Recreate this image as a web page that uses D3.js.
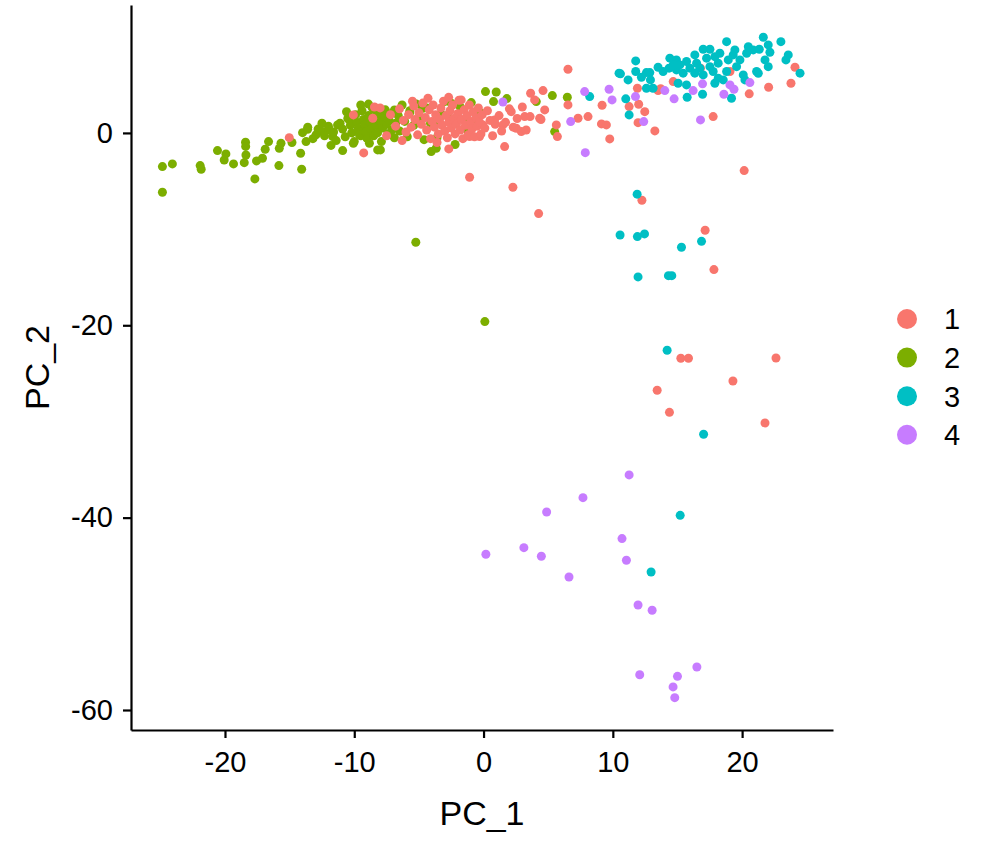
<!DOCTYPE html>
<html>
<head>
<meta charset="utf-8">
<script src="https://cdn.jsdelivr.net/npm/d3@7"></script>
<style>
  body { margin: 0; background: #fff; }
  text { font-family: "Liberation Sans", Arial, sans-serif; fill: #000; }
</style>
</head>
<body>
<div id="vis"></div>
<script>
// cluster labels and colours (ggplot hue palette)
var clusters = ['1', '2', '3', '4'];
var clusterColors = ['#F8766D', '#7CAE00', '#00BFC4', '#C77CFF'];

var xTicks = [-20, -10, 0, 10, 20];
var yTicks = [0, -20, -40, -60];

// [PC_1, PC_2] per cluster
var cluster2 = [
  [-24.84,-6.17],[-24.84,-3.5],[-24.07,-3.22],[-21.92,-3.4],[-21.84,-3.78],[-20.58,-1.84],[-19.93,-2.18],
  [-20.06,-2.81],[-19.34,-3.22],[-18.51,-3.09],[-18.41,-0.97],[-18.4,-1.4],[-18.38,-2.29],[-17.69,-4.78],
  [-17.56,-2.91],[-17.1,-2.63],[-16.89,-1.7],[-16.63,-0.9],[-15.83,-3.4],[-15.8,-1.6],[-15.67,-1.07],
  [-14.82,-1.0],[-14.15,-2.11],[-14.07,-3.78],[-14.0,0.03],[-13.61,0.38],[-13.73,-0.9],[-12.96,-0.2],
  [-12.45,0.14],[-11.93,0.31],[-11.67,-0.38],[-11.29,0.83],[-10.9,-1.84],[-10.38,1.35],[-10.07,-1.07],
  [-9.6,0.31],[-9.5,-0.3],[-8.83,-1.07],[-8.44,2.39],[-8.19,-1.77],[-7.98,-1.77],[-4.05,-1.94],
  [-3.66,-1.59],[-3.8,0.94],[-3.02,3.26],[-2.5,3.09],[-0.95,3.15],[-1.34,1.01],[-0.18,2.05],[0.15,4.3],
  [0.98,4.26],[0.77,3.26],[1.8,3.57],[4.08,3.26],[5.32,3.88],[6.48,3.71],[5.5,0.14],[-4.7,2.57],
  [-5.73,2.05],[-6.89,2.39],[-8.31,2.57],[-8.6,-0.2],[-5.24,-11.37],[0.1,-19.62],
  [-13.2,-0.6],[-12.8,0.4],[-12.3,-0.3],[-12.0,0.7],[-11.6,0.1],[-11.4,-0.8],[-11.1,1.0],[-10.9,0.4],
  [-10.7,-0.4],[-10.5,1.5],[-10.3,0.8],[-10.2,0.0],[-10.0,-0.9],[-9.9,1.9],[-9.8,1.1],[-9.7,0.5],
  [-9.6,-0.2],[-9.4,2.3],[-9.3,1.4],[-9.2,0.8],[-9.1,0.1],[-9.0,-0.6],[-8.9,1.8],[-8.8,1.1],[-8.7,0.4],
  [-8.6,2.6],[-8.5,-0.3],[-8.4,1.5],[-8.3,0.8],[-8.2,0.0],[-8.1,2.0],[-8.0,1.2],[-7.9,-0.9],[-7.8,0.5],
  [-7.7,1.7],[-7.6,2.4],[-7.5,0.9],[-7.4,-0.1],[-7.3,1.3],[-7.1,0.3],[-7.0,2.1],[-6.9,-0.5],[-6.8,1.0],
  [-6.6,1.8],[-6.5,0.2],[-6.3,2.9],[-6.1,1.2],[-5.9,-0.4],[-5.7,2.3],[-5.4,0.8],[-5.2,3.0],[-4.9,1.6],
  [-4.6,-0.7],[-4.4,2.6],[-4.1,1.0],[-3.6,-0.5],[-3.3,2.0],[-2.6,1.5],[-2.2,-1.2],[-1.8,2.7],[-1.2,0.2],
  [-0.6,1.2],[-11.8,-1.3],[-12.5,1.0],[-13.6,0.6],[-9.5,2.9],[-8.9,3.0],[-10.6,2.2]
];

var cluster1 = [
  [-15.03,-0.49],[-9.27,-2.08],[-10.07,1.87],[-8.57,1.53],[-8.44,2.7],[6.53,6.62],[-1.08,-4.61],
  [2.27,-5.65],[1.63,-1.42],[-2.69,-1.66],[3.18,1.7],[3.64,4.13],[4.6,4.4],[3.95,3.43],[4.73,2.39],
  [4.34,1.53],[4.44,1.4],[5.63,0.83],[5.71,-0.38],[6.53,2.91],[9.17,2.88],[7.31,1.53],[8.08,1.7],
  [9.12,0.94],[9.5,0.83],[9.76,-0.62],[2.14,2.21],[2.53,0.49],[2.92,0.14],[1.5,0.83],[0.85,1.35],
  [-0.31,-0.38],[-1.08,-0.38],[-1.73,3.43],[-0.05,0.83],
  [16.78,6.73],[19.06,6.38],[24.09,6.83],[23.78,5.17],[22.05,4.75],[20.55,4.06],[17.76,1.7],[13.5,4.4],
  [13.7,4.6],[14.67,5.34],[11.9,4.65],[12.0,2.98],[11.26,2.74],[12.47,2.21],[11.95,1.07],[13.25,0.21],
  [20.16,-3.92],[12.25,-7.0],[4.26,-8.39],[17.14,-10.12],[17.82,-14.21],[15.26,-23.43],[15.85,-23.43],
  [22.62,-23.4],[19.29,-25.79],[13.43,-26.76],[14.38,-29.05],[21.77,-30.16],
  [-7.2,1.9],[-6.8,0.7],[-6.5,2.5],[-6.2,1.3],[-6.0,0.1],[-5.8,1.9],[-5.6,0.6],[-5.4,2.8],[-5.3,1.4],
  [-5.1,-0.2],[-5.0,2.1],[-4.8,0.9],[-4.7,3.1],[-4.5,1.6],[-4.4,0.3],[-4.2,2.4],[-4.1,-0.6],[-4.0,1.2],
  [-3.9,2.9],[-3.8,0.6],[-3.7,1.9],[-3.5,-0.1],[-3.4,1.4],[-3.3,2.6],[-3.2,0.8],[-3.1,3.3],[-3.0,0.2],
  [-2.9,1.8],[-2.8,-0.5],[-2.7,1.1],[-2.6,2.3],[-2.5,0.5],[-2.4,2.9],[-2.3,1.5],[-2.2,-0.1],[-2.1,0.9],
  [-2.0,2.0],[-1.9,3.4],[-1.8,0.3],[-1.7,1.4],[-1.6,-0.6],[-1.5,2.4],[-1.4,0.8],[-1.3,1.8],[-1.2,-0.2],
  [-1.1,2.9],[-1.0,1.2],[-0.9,0.4],[-0.8,2.2],[-0.7,-0.4],[-0.6,1.6],[-0.5,0.7],[-0.4,2.6],[-0.3,1.1],
  [-0.2,-0.1],[-0.1,1.9],[0.1,0.5],[0.3,2.3],[0.5,1.3],[0.7,-0.3],[0.9,0.9],[1.2,1.8],[1.4,0.2],
  [1.7,1.1],[2.0,2.5],[2.3,0.6],[2.6,1.5],[3.0,2.7],[3.3,0.3],[3.6,1.7],[-8.0,2.6],[-7.5,-0.3],
  [-6.3,-0.8],[-5.5,3.3],[-4.3,3.6],[-2.7,3.7],[-3.6,-1.0]
];

var cluster3 = [
  [8.21,3.78],[10.48,6.21],[10.59,6.14],[11.18,5.51],[11.77,7.49],[11.77,6.38],[12.21,5.79],[12.86,6.27],
  [12.91,5.51],[12.6,4.65],[13.11,4.65],[13.5,6.83],[13.89,6.38],[14.41,7.77],[14.35,6.73],[14.92,7.59],
  [14.92,6.55],[15.05,5.17],[15.44,6.21],[15.7,7.42],[15.96,6.73],[15.7,4.99],[15.75,3.71],[16.34,8.11],
  [16.48,7.25],[16.34,6.21],[16.99,8.7],[17.51,8.7],[17.25,7.77],[17.51,6.89],[16.99,6.03],[16.94,4.02],
  [17.89,7.93],[18.15,7.25],[17.76,6.38],[17.89,5.17],[18.28,8.28],[18.54,5.51],[18.8,9.49],[18.93,7.59],
  [19.31,8.11],[19.44,8.63],[19.57,6.89],[19.18,3.6],[19.83,7.59],[20.09,6.03],[20.22,5.51],[20.35,8.28],
  [20.48,8.97],[20.86,8.63],[21.12,6.38],[21.25,6.2],[21.33,8.7],[21.64,9.95],[21.77,7.59],[22.02,9.15],
  [22.15,8.39],[22.02,6.89],[23.0,9.49],[23.57,8.11],[23.39,7.59],[24.48,6.21],[11.0,3.54],[11.26,1.87],
  [18.8,6.38],[18.15,5.69],[16.73,6.73],[15.18,7.07],[14.67,7.07],[12.6,6.27],
  [11.88,-6.37],[10.56,-10.61],[11.9,-10.78],[12.45,-10.5],[16.86,-11.27],[15.31,-11.89],[11.95,-14.97],
  [14.3,-14.84],[14.56,-14.84],[14.2,-22.6],[17.02,-31.33],[15.21,-39.76],[12.96,-45.65]
];

var cluster4 = [
  [1.5,3.22],[7.82,4.3],[9.71,4.54],[9.94,3.43],[6.74,1.18],[7.87,-2.05],[11.75,3.78],[12.39,1.18],
  [14.02,4.4],[14.74,3.54],[16.21,4.4],[16.94,5.1],[16.78,1.35],[18.59,4.02],[19.06,4.99],[19.37,4.54],
  [20.6,5.23],[11.26,-35.56],[7.69,-37.92],[4.88,-39.41],[10.71,-42.18],[0.18,-43.81],[3.12,-43.12],
  [4.47,-44.02],[11.05,-44.43],[6.61,-46.17],[11.95,-49.08],[13.04,-49.63],[16.5,-55.53],[12.08,-56.33],
  [15.0,-56.5],[14.66,-57.6],[14.79,-58.72]
];

var width = 986, height = 846;
var plot = { left: 131, right: 833, top: 5, bottom: 730 };

var x = d3.scaleLinear().domain([-27.27, 27.03]).range([plot.left, plot.right]);
var y = d3.scaleLinear().domain([-62.08, 13.3]).range([plot.bottom, plot.top]);
var color = d3.scaleOrdinal().domain(clusters).range(clusterColors);

var svg = d3.select('#vis').append('svg')
  .attr('width', width)
  .attr('height', height);

// points, drawn cluster by cluster
var layers = [['2', cluster2], ['1', cluster1], ['3', cluster3], ['4', cluster4]];
layers.forEach(function (l) {
  svg.append('g')
    .selectAll('circle')
    .data(l[1])
    .enter()
    .append('circle')
    .attr('cx', function (d) { return x(d[0]); })
    .attr('cy', function (d) { return y(d[1]); })
    .attr('r', 4.5)
    .attr('fill', color(l[0]));
});

// axes (plain hyphen minus, like the original)
var plainFormat = function (d) { return String(d); };
var xAxis = svg.append('g')
  .attr('transform', 'translate(0,' + plot.bottom + ')')
  .call(d3.axisBottom(x).tickValues(xTicks).tickFormat(plainFormat)
    .tickSizeInner(8).tickSizeOuter(0).tickPadding(13));
var yAxis = svg.append('g')
  .attr('transform', 'translate(' + plot.left + ',0)')
  .call(d3.axisLeft(y).tickValues(yTicks).tickFormat(plainFormat)
    .tickSizeInner(8).tickSizeOuter(0).tickPadding(10));

[xAxis, yAxis].forEach(function (a) {
  a.select('.domain').attr('stroke', '#000').attr('stroke-width', 2.2);
  a.selectAll('.tick line').attr('stroke', '#000').attr('stroke-width', 2.2);
  a.selectAll('.tick text').style('font-size', '29px').attr('fill', '#000');
});

// axis titles
svg.append('text')
  .attr('x', (plot.left + plot.right) / 2)
  .attr('y', 825)
  .attr('text-anchor', 'middle')
  .style('font-size', '34px')
  .text('PC_1');

svg.append('text')
  .attr('transform', 'translate(49,' + (plot.top + plot.bottom) / 2 + ') rotate(-90)')
  .attr('text-anchor', 'middle')
  .style('font-size', '34px')
  .text('PC_2');

// legend
var legend = svg.append('g').attr('transform', 'translate(907,319)');
var item = legend.selectAll('g')
  .data(clusters)
  .enter()
  .append('g')
  .attr('transform', function (d, i) { return 'translate(0,' + i * 38.6 + ')'; });
item.append('circle')
  .attr('r', 10)
  .attr('fill', function (d) { return color(d); });
item.append('text')
  .attr('x', 37)
  .attr('dy', '0.36em')
  .style('font-size', '29px')
  .text(function (d) { return d; });
</script>
</body>
</html>
